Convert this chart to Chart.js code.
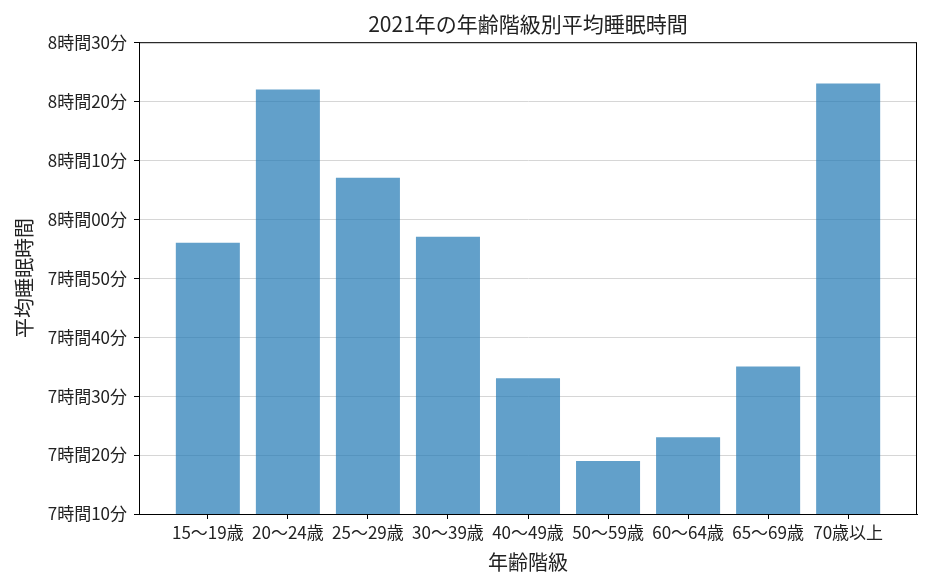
<!DOCTYPE html>
<html lang="ja">
<head>
<meta charset="utf-8">
<title>2021年の年齢階級別平均睡眠時間</title>
<script src="https://cdn.jsdelivr.net/npm/chart.js@4"></script>
<style>
    html, body { margin: 0; padding: 0; background: #fff; }
    #wrap { width: 930px; height: 581px; }
</style>
</head>
<body>
<div id="wrap"><canvas id="chart" width="930" height="581"></canvas></div>
<script>
// --- data (minutes of sleep per day) ---
const categories = ['15～19歳', '20～24歳', '25～29歳', '30～39歳', '40～49歳', '50～59歳', '60～64歳', '65～69歳', '70歳以上'];
const sleepMinutes = [476, 502, 487, 477, 453, 439, 443, 455, 503];
const yTickMinutes = [430, 440, 450, 460, 470, 480, 490, 500, 510];

const FONT = "'Noto Sans CJK JP', 'Noto Sans', sans-serif";
const TEXT = '#222';

Chart.defaults.font.family = FONT;
Chart.defaults.color = TEXT;

function fmtMinutes(v) {
    const h = Math.floor(v / 60);
    const m = String(v % 60).padStart(2, '0');
    return h + '時間' + m + '分';
}

// draw the full box like matplotlib spines
const frame = {
    id: 'frame',
    afterDatasetsDraw(chart) {
        const { ctx, chartArea: a } = chart;
        ctx.save();
        ctx.strokeStyle = '#000';
        ctx.lineWidth = 1;
        ctx.strokeRect(a.left + 0.5, a.top + 0.5, a.right - a.left - 1, a.bottom - a.top);
        ctx.restore();
    },
};

new Chart(document.getElementById('chart'), {
    type: 'bar',
    data: {
        datasets: [{
            data: sleepMinutes.map((v, i) => ({ x: i, y: v })),
            backgroundColor: 'rgba(31,119,180,0.7)',
            borderWidth: 0,
            barPercentage: 0.8,
            categoryPercentage: 1,
        }],
    },
    options: {
        responsive: false,
        animation: false,
        layout: { padding: { left: 0, right: 13, top: 0, bottom: 0 } },
        plugins: {
            legend: { display: false },
            tooltip: { enabled: false },
            title: {
                display: true,
                fullSize: false,
                text: '2021年の年齢階級別平均睡眠時間',
                font: { size: 21, weight: 'normal' },
                color: TEXT,
                padding: { top: 11, bottom: 6 },
            },
        },
        scales: {
            x: {
                type: 'linear',
                offset: false,
                min: -0.86,
                max: 8.86,
                afterBuildTicks: s => { s.ticks = categories.map((_, i) => ({ value: i })); },
                afterFit: s => { s.height = 67; },
                ticks: {
                    callback: v => categories[v],
                    font: { size: 17 },
                    color: TEXT,
                    padding: 3,
                    maxRotation: 0,
                    autoSkip: false,
                },
                grid: { drawOnChartArea: false, tickColor: '#000', tickLength: 5, offset: false },
                border: { color: '#000' },
                title: {
                    display: true,
                    text: '年齢階級',
                    font: { size: 20 },
                    color: TEXT,
                    padding: { top: 0, bottom: 7 },
                },
            },
            y: {
                min: 430,
                max: 510,
                afterBuildTicks: s => { s.ticks = yTickMinutes.map(v => ({ value: v })); },
                afterFit: s => { s.width = 139; },
                ticks: {
                    callback: v => fmtMinutes(v),
                    font: { size: 17 },
                    color: TEXT,
                    padding: 7,
                },
                grid: { color: '#d6d6d6', tickColor: '#000', tickLength: 5 },
                border: { color: '#000' },
                title: {
                    display: true,
                    text: '平均睡眠時間',
                    font: { size: 20 },
                    color: TEXT,
                    padding: { top: 12, bottom: 0 },
                },
            },
        },
    },
    plugins: [frame],
});
</script>
</body>
</html>
